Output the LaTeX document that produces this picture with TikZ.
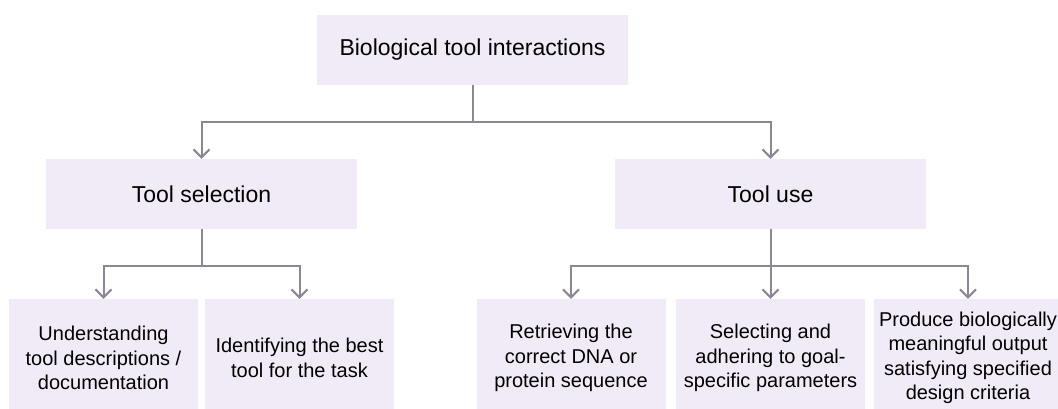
\documentclass[tikz,border=0pt]{standalone}
\usepackage{fontspec}
\setmainfont{Liberation Sans}
\usetikzlibrary{arrows.meta}
\usepackage{xcolor}
\definecolor{boxfill}{RGB}{240,235,247}
\definecolor{linegray}{RGB}{140,134,151}

\begin{document}
\begin{tikzpicture}[x=1pt,y=1pt]
\tikzstyle{topbox} = [minimum width=311pt,minimum height=70pt,fill=boxfill,
            inner sep=0pt,font=\fontsize{23}{28}\selectfont];
\tikzstyle{leafbox} = [minimum width=189pt,minimum height=118pt,fill=boxfill,
            inner sep=0pt,align=center,font=\fontsize{20}{24.5}\selectfont];
\tikzstyle{link} = [draw=linegray,line width=2pt];
\tikzstyle{arr} = [link,-{Straight Barb[length=8pt,width=16pt]}];

    \clip (0,0) rectangle (1058,-408);

    \node (bio) at (472.5,-49.5) [topbox] {Biological tool interactions};
    \node (sel) at (201.5,-194) [topbox] {Tool selection};
    \node (use) at (770.5,-194) [topbox] {Tool use};

    \node (l1) at (103.5,-358) [leafbox] {Understanding\\tool descriptions /\\documentation};
    \node (l2) at (299.5,-358) [leafbox] {Identifying the best\\tool for the task};
    \node (l3) at (571,-358) [leafbox] {Retrieving the\\correct DNA or\\protein sequence};
    \node (l4) at (770.5,-358) [leafbox] {Selecting and\\adhering to goal-\\specific parameters};
    \node (l5) at (968,-358) [leafbox] {Produce biologically\\meaningful output\\satisfying specified\\design criteria};

    % junctions
    \coordinate (j0) at (472.5,-122);
    \coordinate (j1) at (201.5,-266);
    \coordinate (j2) at (770.5,-266);

    \draw[link] (bio) -- (j0);
    \foreach \t in {sel, use}
        \draw[arr] (j0) -| (\t);

    \draw[link] (sel) -- (j1);
    \foreach \t in {l1, l2}
        \draw[arr] (j1) -| (\t);

    \draw[link] (use) -- (j2);
    \foreach \t in {l3, l4, l5}
        \draw[arr] (j2) -| (\t);

\end{tikzpicture}
\end{document}
